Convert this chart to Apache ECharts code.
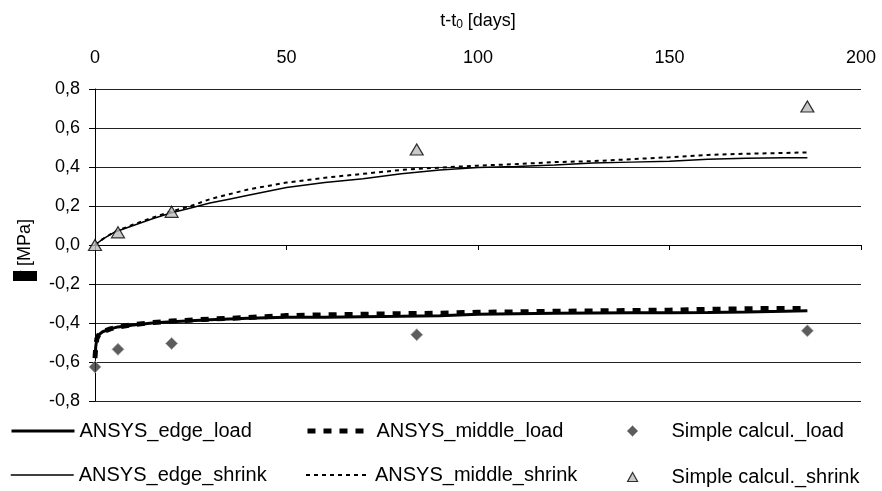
<!DOCTYPE html>
<html>
<head>
<meta charset="utf-8">
<script src="https://cdn.jsdelivr.net/npm/echarts@6/dist/echarts.min.js"></script>
<style>html,body{margin:0;padding:0;background:#fff}#c{width:882px;height:491px}</style>
</head>
<body>
<div id="c"></div>
<script>
// ---- data ----
const loadDays = [0, 0.2, 0.5, 1, 2, 4, 6, 10, 15, 20, 30, 40, 50, 60, 70, 80, 90, 100, 110, 120, 130, 140, 150, 160, 170, 180, 186];
const edgeLoad = [-0.58, -0.52, -0.48, -0.46, -0.445, -0.43, -0.42, -0.41, -0.40, -0.393, -0.383, -0.376, -0.37, -0.37, -0.368, -0.366, -0.363, -0.355, -0.352, -0.35, -0.349, -0.348, -0.347, -0.346, -0.344, -0.34, -0.337];
const middleLoad = [-0.58, -0.52, -0.48, -0.46, -0.445, -0.43, -0.42, -0.408, -0.398, -0.39, -0.38, -0.372, -0.362, -0.358, -0.355, -0.352, -0.35, -0.345, -0.343, -0.34, -0.338, -0.336, -0.334, -0.33, -0.327, -0.325, -0.325];
const shrinkDays = [0, 2, 5, 10, 15, 20, 25, 30, 35, 40, 50, 60, 70, 80, 90, 100, 110, 120, 130, 140, 150, 160, 170, 180, 186];
const edgeShrink = [0, 0.03, 0.065, 0.10, 0.135, 0.165, 0.19, 0.215, 0.235, 0.255, 0.295, 0.32, 0.34, 0.365, 0.385, 0.397, 0.402, 0.41, 0.42, 0.425, 0.43, 0.44, 0.445, 0.447, 0.447];
const middleShrink = [0, 0.03, 0.067, 0.105, 0.14, 0.172, 0.2, 0.235, 0.26, 0.285, 0.32, 0.345, 0.365, 0.385, 0.397, 0.407, 0.415, 0.425, 0.43, 0.44, 0.45, 0.462, 0.468, 0.472, 0.475];
const calcDays = [0, 6, 20, 84, 186];
const calcLoad = [-0.625, -0.535, -0.505, -0.46, -0.44];
const calcShrink = [0, 0.065, 0.17, 0.49, 0.71];
const xTicks = [0, 50, 100, 150, 200];
const yTicks = [-0.8, -0.6, -0.4, -0.2, 0, 0.2, 0.4, 0.6, 0.8];
const names = ['ANSYS_edge_load', 'ANSYS_middle_load', 'Simple calcul._load', 'ANSYS_edge_shrink', 'ANSYS_middle_shrink', 'Simple calcul._shrink'];

const zip = (xs, ys) => xs.map((x, i) => [x, ys[i]]);
const FONT = 'Liberation Sans, Arial, sans-serif';
const FS = 18;
const LFS = 20;

const chart = echarts.init(document.getElementById('c'), null, {renderer: 'canvas'});

function lineLegend(name, left, top, w, lineStyle) {
  return {
    data: [name], left: left, top: top, itemWidth: w, itemHeight: 14,
    textStyle: {fontFamily: FONT, fontSize: LFS, color: '#000'},
    itemStyle: {opacity: 0}, lineStyle: lineStyle,
    selectedMode: false, padding: 0
  };
}
function symLegend(name, icon, top, w, h, itemStyle) {
  return {
    data: [{name: name, icon: icon}], left: 632 - w / 2, top: top, itemWidth: w, itemHeight: h,
    textStyle: {fontFamily: FONT, fontSize: LFS, color: '#000', padding: [0, 0, 0, 34 - w / 2]},
    itemStyle: itemStyle,
    selectedMode: false, padding: 0
  };
}

chart.setOption({
  animation: false,
  backgroundColor: '#fff',
  grid: {left: 95, right: 21, top: 89, bottom: 90, containLabel: false, outerBoundsMode: 'none'},
  xAxis: [{
    type: 'value', position: 'top', min: xTicks[0], max: xTicks[xTicks.length - 1], interval: 50,
    axisLine: {show: false, onZero: false}, axisTick: {show: false}, splitLine: {show: false},
    axisLabel: {fontFamily: FONT, fontSize: FS, color: '#000', margin: 22},
    name: '{a|t-t}{s|0}{a| [days]}', nameLocation: 'middle', nameGap: 58,
    nameTextStyle: {rich: {
      a: {fontFamily: FONT, fontSize: FS, color: '#000'},
      s: {fontFamily: FONT, fontSize: 12, color: '#000', verticalAlign: 'bottom', padding: [8, 0, 0, 0]}
    }}
  }, {
    type: 'value', position: 'bottom', min: xTicks[0], max: xTicks[xTicks.length - 1], interval: 50,
    axisLine: {show: true, onZero: true, onZeroAxisIndex: 0, lineStyle: {color: '#000', width: 1}},
    axisTick: {show: true, length: 5, lineStyle: {color: '#000'}},
    axisLabel: {show: false}, splitLine: {show: false}
  }],
  yAxis: {
    type: 'value', min: yTicks[0], max: yTicks[yTicks.length - 1], interval: 0.2,
    axisLine: {show: true, onZero: false, lineStyle: {color: '#000', width: 1}},
    axisTick: {show: true, length: 6, lineStyle: {color: '#000'}},
    splitLine: {show: true, lineStyle: {color: '#222', width: 1}},
    axisLabel: {fontFamily: FONT, fontSize: FS, color: '#000', margin: 15,
      formatter: v => (Math.abs(v) < 1e-9 ? 0 : v).toFixed(1).replace('.', ',')},
    name: '{b|σ}{a| [MPa]}', nameLocation: 'middle', nameRotate: 90, nameGap: 58,
    nameTextStyle: {rich: {
      a: {fontFamily: FONT, fontSize: FS, color: '#000', padding: [0, 10, 0, 0]},
      b: {fontFamily: FONT, fontSize: FS, color: '#000', backgroundColor: '#000', width: 10, height: 24}
    }}
  },
  legend: [
    lineLegend(names[0], 10, 421, 63, {color: '#000', width: 3, type: 'solid'}),
    lineLegend(names[1], 305, 421, 64, {color: '#000', width: 5, type: [8, 8]}),
    symLegend(names[2], 'diamond', 421, 11, 11, {color: '#333', borderColor: '#aaa', borderWidth: 1}),
    lineLegend(names[3], 10, 465, 63, {color: '#000', width: 1.5, type: 'solid'}),
    lineLegend(names[4], 305, 465, 64, {color: '#000', width: 2, type: [4, 4]}),
    symLegend(names[5], 'triangle', 467, 10, 9, {color: '#bbb', borderColor: '#000', borderWidth: 1.2})
  ],
  series: [
    {name: names[0], type: 'line', xAxisIndex: 0, data: zip(loadDays, edgeLoad), showSymbol: false, symbol: 'none',
      lineStyle: {color: '#000', width: 3}, itemStyle: {color: '#000'}, z: 3},
    {name: names[1], type: 'line', xAxisIndex: 0, data: zip(loadDays, middleLoad), showSymbol: false, symbol: 'none',
      lineStyle: {color: '#000', width: 5, type: [8, 8]}, itemStyle: {color: '#000'}, z: 3},
    {name: names[2], type: 'scatter', xAxisIndex: 0, data: zip(calcDays, calcLoad), symbol: 'diamond', symbolSize: 12,
      itemStyle: {color: '#333', borderColor: '#aaa', borderWidth: 1}, z: 4},
    {name: names[3], type: 'line', xAxisIndex: 0, data: zip(shrinkDays, edgeShrink), showSymbol: false, symbol: 'none',
      lineStyle: {color: '#000', width: 1.5}, itemStyle: {color: '#000'}, z: 3},
    {name: names[4], type: 'line', xAxisIndex: 0, data: zip(shrinkDays, middleShrink), showSymbol: false, symbol: 'none',
      lineStyle: {color: '#000', width: 2, type: [4, 4]}, itemStyle: {color: '#000'}, z: 3},
    {name: names[5], type: 'scatter', xAxisIndex: 0, data: zip(calcDays, calcShrink), symbol: 'triangle', symbolSize: [13, 11],
      itemStyle: {color: '#bbb', borderColor: '#000', borderWidth: 1.2}, z: 5}
  ]
});
</script>
</body>
</html>
